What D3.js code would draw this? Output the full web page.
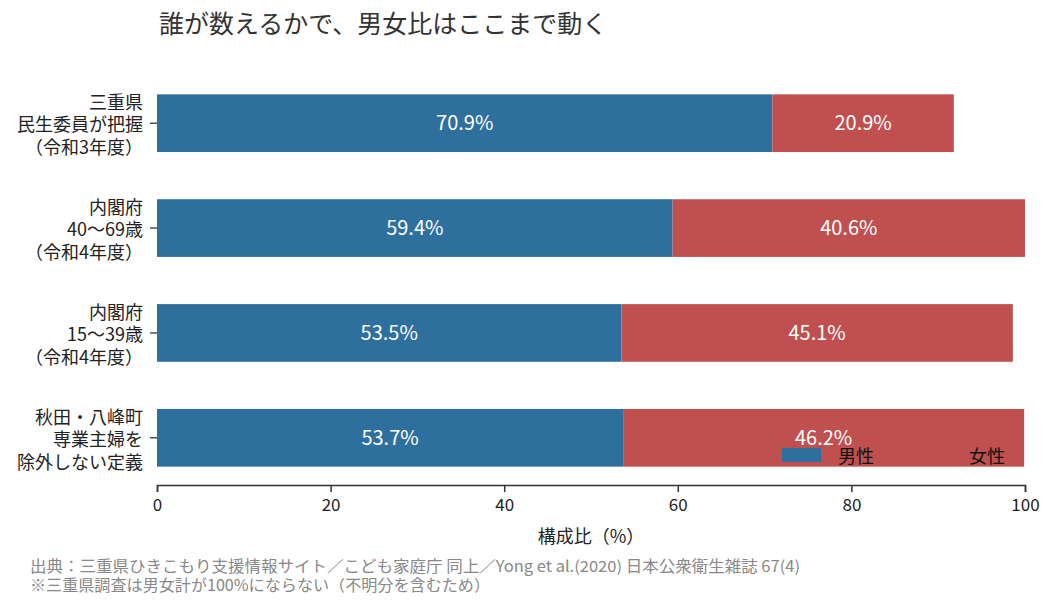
<!DOCTYPE html>
<html>
<head>
<meta charset="utf-8">
<script src="https://cdn.jsdelivr.net/npm/d3@7"></script>
<style>
  body { margin: 0; background: #fff; }
  text { font-family: 'Noto Sans CJK JP', 'Noto Sans', sans-serif; }
</style>
</head>
<body>
<div id="chart"></div>
<script>
const categories = [
  ['三重県', '民生委員が把握', '（令和3年度）'],
  ['内閣府', '40〜69歳', '（令和4年度）'],
  ['内閣府', '15〜39歳', '（令和4年度）'],
  ['秋田・八峰町', '専業主婦を', '除外しない定義']
]
const male = [70.9, 59.4, 53.5, 53.7]
const female = [20.9, 40.6, 45.1, 46.2]
const xTicks = [0, 20, 40, 60, 80, 100]
const seriesNames = ['男性', '女性']

const colors = ['#2e6f9e', '#c0504f']

const W = 1055
const H = 609
const margin = { top: 76, right: 30, bottom: 124, left: 157 }
const width = 1025 - margin.left
const height = 485 - margin.top

const svg = d3.select('#chart')
  .append('svg')
  .attr('width', W)
  .attr('height', H)

const g = svg.append('g')
  .attr('transform', 'translate(' + margin.left + ',' + margin.top + ')')

const x = d3.scaleLinear().domain([0, 100]).range([0, width])
const y = d3.scaleBand()
  .domain(d3.range(categories.length))
  .range([0, height])
  .paddingInner(0.45)
  .paddingOuter(0.175)

const rows = categories.map((c, i) => ({ i, male: male[i], female: female[i] }))

// male bars
g.selectAll('.m')
  .data(rows)
  .enter()
  .append('rect')
  .attr('x', x(0))
  .attr('y', d => y(d.i))
  .attr('width', d => x(d.male) - x(0))
  .attr('height', y.bandwidth())
  .attr('fill', colors[0])

// female bars
g.selectAll('.f')
  .data(rows)
  .enter()
  .append('rect')
  .attr('x', d => x(d.male))
  .attr('y', d => y(d.i))
  .attr('width', d => x(d.male + d.female) - x(d.male))
  .attr('height', y.bandwidth())
  .attr('fill', colors[1])

// value labels
rows.forEach(d => {
  g.append('text')
    .attr('x', x(d.male / 2))
    .attr('y', y(d.i) + y.bandwidth() / 2)
    .attr('dy', '0.35em')
    .attr('text-anchor', 'middle')
    .attr('fill', '#fff')
    .attr('font-size', 20)
    .text(d.male.toFixed(1) + '%')
  g.append('text')
    .attr('x', x(d.male + d.female / 2))
    .attr('y', y(d.i) + y.bandwidth() / 2)
    .attr('dy', '0.35em')
    .attr('text-anchor', 'middle')
    .attr('fill', '#fff')
    .attr('font-size', 20)
    .text(d.female.toFixed(1) + '%')
})

// y axis: ticks + multi-line labels
const yAxis = g.append('g').attr('class', 'y-axis')
rows.forEach(d => {
  const cy = y(d.i) + y.bandwidth() / 2
  yAxis.append('line')
    .attr('x1', -7).attr('x2', 0)
    .attr('y1', cy).attr('y2', cy)
    .attr('stroke', '#333').attr('stroke-width', 1.3)
  const t = yAxis.append('text')
    .attr('text-anchor', 'end')
    .attr('font-size', 18)
    .attr('fill', '#222')
  categories[d.i].forEach((line, k) => {
    t.append('tspan')
      .attr('x', -14)
      .attr('y', cy + 2 + (k - 1) * 22.5)
      .attr('dy', '0.35em')
      .text(line)
  })
})

// x axis
const xAxis = d3.axisBottom(x).tickValues(xTicks).tickSize(7).tickPadding(7)
const xg = g.append('g')
  .attr('transform', 'translate(0,' + height + ')')
  .call(xAxis)
xg.select('.domain').attr('stroke', '#333').attr('stroke-width', 1.5)
xg.selectAll('.tick line').attr('stroke', '#333').attr('stroke-width', 1.5)
xg.selectAll('.tick text')
  .attr('font-size', 17)
  .attr('fill', '#222')
  .attr('font-family', "'Noto Sans CJK JP', sans-serif")

g.append('text')
  .attr('x', width / 2)
  .attr('y', height + 58)
  .attr('text-anchor', 'middle')
  .attr('font-size', 18)
  .attr('fill', '#222')
  .text('構成比（%）')

// legend
const legend = g.append('g')
  .attr('transform', 'translate(' + (782 - margin.left) + ',' + (448 - margin.top) + ')')
seriesNames.forEach((name, i) => {
  legend.append('rect')
    .attr('x', i * 131)
    .attr('y', 0)
    .attr('width', 39)
    .attr('height', 14)
    .attr('fill', colors[i])
  legend.append('text')
    .attr('x', i * 131 + 56)
    .attr('y', 7)
    .attr('dy', '0.42em')
    .attr('font-size', 18)
    .attr('fill', '#111')
    .text(name)
})

// title
svg.append('text')
  .attr('x', 159)
  .attr('y', 33)
  .attr('font-size', 25)
  .attr('fill', '#333')
  .text('誰が数えるかで、男女比はここまで動く')

// source notes
const notes = [
  '出典：三重県ひきこもり支援情報サイト／こども家庭庁 同上／Yong et al.(2020) 日本公衆衛生雑誌 67(4)',
  '※三重県調査は男女計が100%にならない（不明分を含むため）'
]
const noteLengths = [770, 460]
notes.forEach((n, i) => {
  svg.append('text')
    .attr('x', 30)
    .attr('y', 572 + i * 19)
    .attr('font-size', 15.5)
    .attr('fill', '#888')
    .attr('textLength', noteLengths[i])
    .attr('lengthAdjust', 'spacingAndGlyphs')
    .text(n)
})
</script>
</body>
</html>
